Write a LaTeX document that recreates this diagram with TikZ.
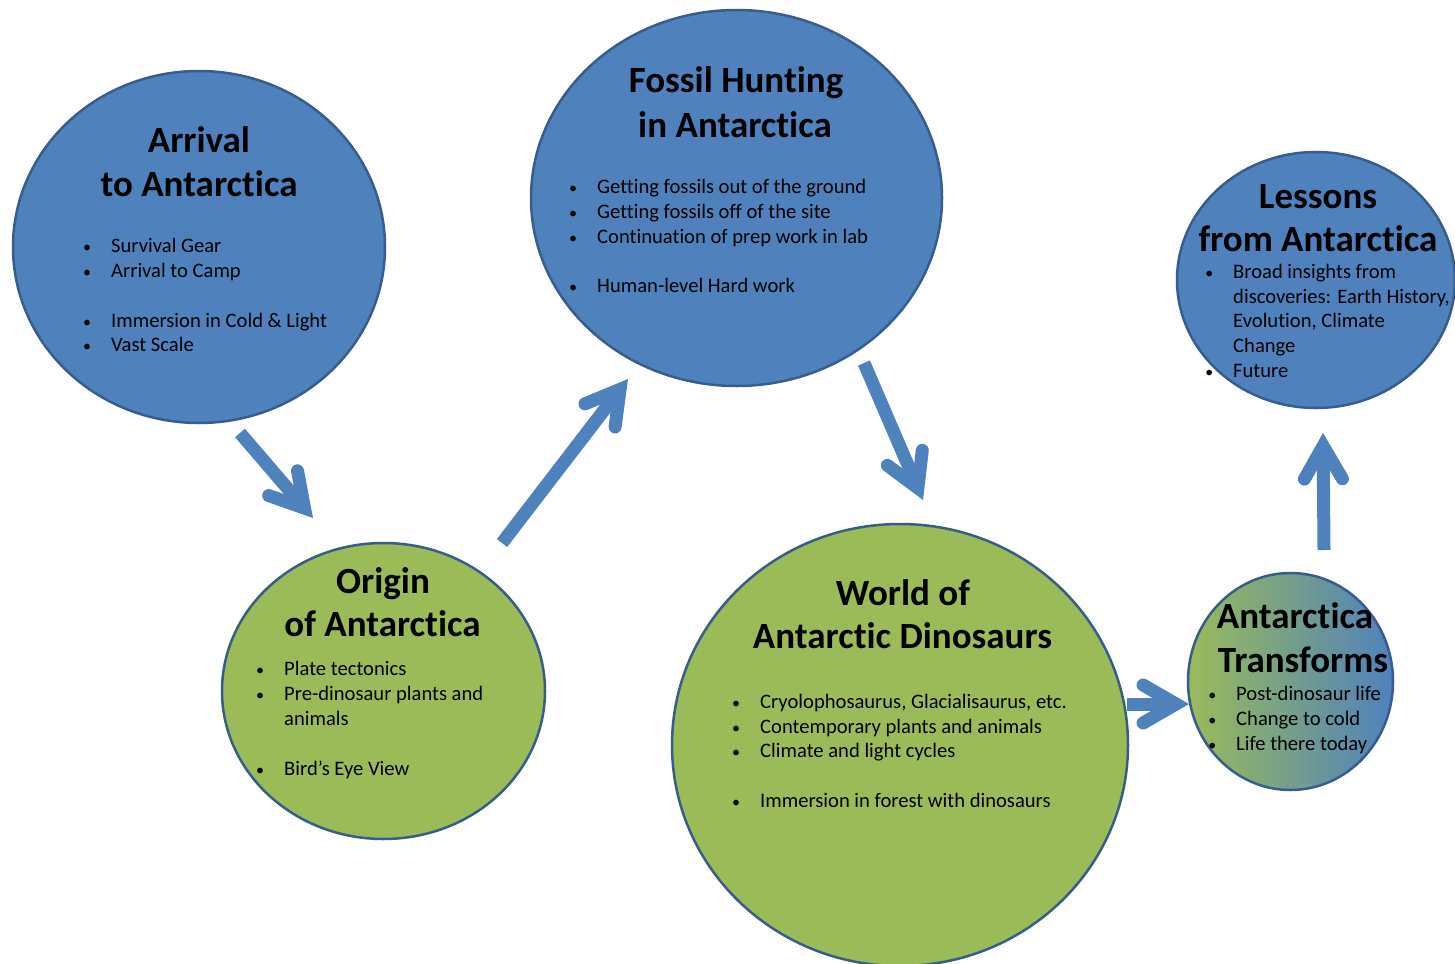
\documentclass[tikz,border=0pt]{standalone}
\usepackage{fontspec}
\setmainfont[Ligatures={NoCommon}]{Carlito}
\usetikzlibrary{calc,shapes.geometric}
\definecolor{cblue}{HTML}{4F81BD}
\definecolor{cborder}{HTML}{385D8A}
\definecolor{cgreen}{HTML}{9BBB59}
\tikzset{
  bubble/.style={ellipse, draw=cborder, line width=2.5pt, inner sep=0pt},
  titletext/.style={anchor=base, inner sep=0pt, font=\fontsize{37}{44}\selectfont\bfseries},
  itemtext/.style={anchor=base west, inner sep=0pt, font=\fontsize{20.6}{25}\selectfont},
  arrowbody/.style={draw=cblue, line width=13pt, line cap=butt},
  arrowhead/.style={draw=cblue, line width=13pt, line cap=round, line join=miter},
}
\newcommand\ttl[4]{\node[titletext] (#1) at (#2,#3) {#4};}
\newcommand\itm[4]{\node[itemtext] (#1) at (#2,#3) {\llap{{\fontsize{16}{16}\selectfont\textbullet}\hspace{20pt}}#4};}
\newcommand\cnt[4]{\node[itemtext] (#1) at (#2,#3) {#4};}
\newcommand\blockarrow[2]{%
  \path ($(#2)!13pt!(#1)$) coordinate (tc);
  \draw[arrowbody] (#1) -- (tc);
  \draw[arrowhead] ($(tc)!38pt!30:(#1)$) -- (tc) -- ($(tc)!38pt!-30:(#1)$);
}
\begin{document}
\begin{tikzpicture}[x=1pt,y=-1pt]
\useasboundingbox (0,0) rectangle (1455,963);

% bubbles
\node[bubble, fill=cblue, minimum width=372pt, minimum height=352pt] (arrival) at (199,247) {};
\node[bubble, fill=cblue, minimum width=411pt, minimum height=376pt] (fossil) at (736.5,198) {};
\node[bubble, fill=cblue, minimum width=278pt, minimum height=256pt] (lessons) at (1316,280) {};
\node[bubble, fill=cgreen, minimum width=323pt, minimum height=296pt] (origin) at (383.5,691) {};
\node[bubble, fill=cgreen, minimum width=456pt, minimum height=442pt] (world) at (900,745) {};
\node[bubble, left color=cgreen, right color=cblue, minimum width=205pt, minimum height=217pt] (transforms) at (1290.5,681.5) {};

% Arrival
\ttl{a1}{199}{152}{Arrival}
\ttl{a2}{199}{196}{to Antarctica}
\itm{a3}{111}{252}{Survival Gear}
\itm{a4}{111}{277}{Arrival to Camp}
\itm{a5}{111}{327}{Immersion in Cold \& Light}
\itm{a6}{111}{351}{Vast Scale}

% Fossil
\ttl{f1}{736}{93}{Fossil Hunting}
\ttl{f2}{735}{138}{in Antarctica}
\itm{f3}{597}{193}{Getting fossils out of the ground}
\itm{f4}{597}{218}{Getting fossils off of the site}
\itm{f5}{597}{243}{Continuation of prep work in lab}
\itm{f6}{597}{292}{Human-level Hard work}

% Lessons
\ttl{l1}{1318}{208}{Lessons}
\ttl{l2}{1318}{251}{from Antarctica}
\itm{l3}{1233}{278}{Broad insights from}
\cnt{l4}{1233}{303}{discoveries: Earth History,}
\cnt{l5}{1233}{327}{Evolution, Climate}
\cnt{l6}{1233}{352}{Change}
\itm{l7}{1233}{377}{Future}

% Origin
\ttl{o1}{383}{593}{Origin}
\ttl{o2}{382.5}{636}{of Antarctica}
\itm{o3}{284}{675}{Plate tectonics}
\itm{o4}{284}{700}{Pre-dinosaur plants and}
\cnt{o5}{284}{725}{animals}
\itm{o6}{284}{775}{Bird’s Eye View}

% World
\ttl{w1}{903}{605}{World of}
\ttl{w2}{902.5}{648}{Antarctic Dinosaurs}
\itm{w3}{760}{708}{Cryolophosaurus, Glacialisaurus, etc.}
\itm{w4}{760}{733}{Contemporary plants and animals}
\itm{w5}{760}{757}{Climate and light cycles}
\itm{w6}{760}{807}{Immersion in forest with dinosaurs}

% Transforms
\ttl{t1}{1295}{628}{Antarctica}
\ttl{t2}{1303}{672}{Transforms}
\itm{t3}{1236}{700}{Post-dinosaur life}
\itm{t4}{1236}{725}{Change to cold}
\itm{t5}{1236}{750}{Life there today}

% arrows
\coordinate (ar1s) at (240,433);  \coordinate (ar1e) at (313,518);
\coordinate (ar2s) at (502,543);  \coordinate (ar2e) at (628,379);
\coordinate (ar3s) at (864,363);  \coordinate (ar3e) at (923,500);
\coordinate (ar4s) at (1127,704); \coordinate (ar4e) at (1189,704);
\coordinate (ar5s) at (1324,550); \coordinate (ar5e) at (1323,433);
\blockarrow{ar1s}{ar1e}
\blockarrow{ar2s}{ar2e}
\blockarrow{ar3s}{ar3e}
\blockarrow{ar4s}{ar4e}
\blockarrow{ar5s}{ar5e}
\end{tikzpicture}
\end{document}
